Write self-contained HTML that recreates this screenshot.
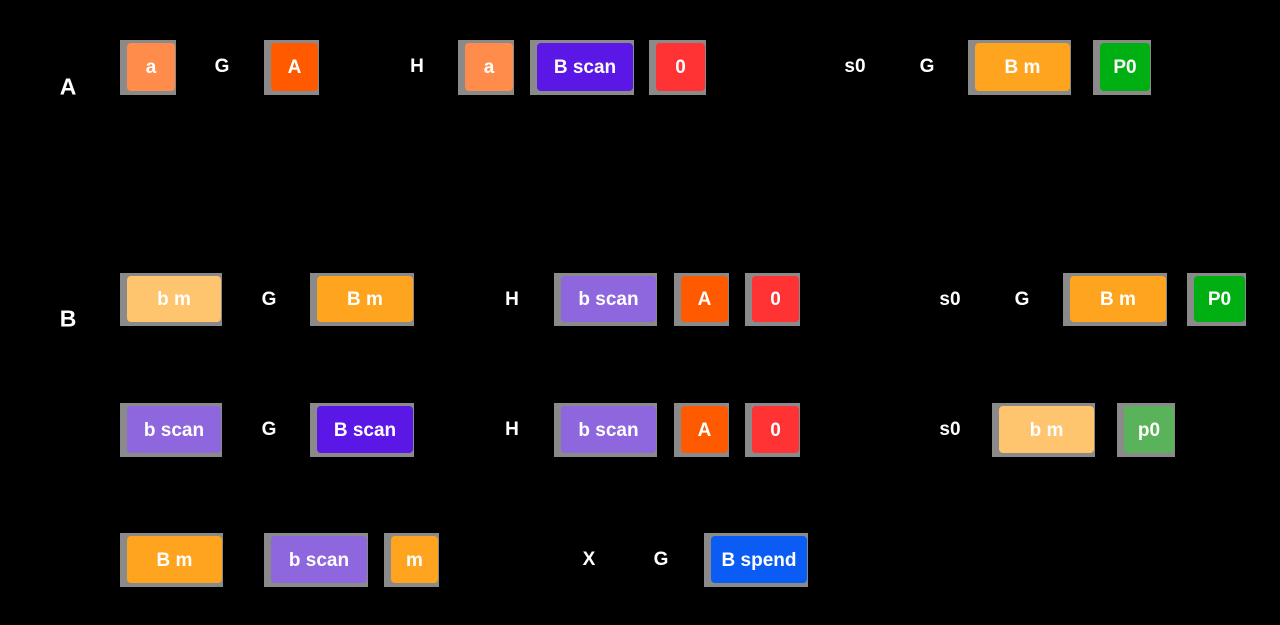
<!DOCTYPE html>
<html><head><meta charset="utf-8"><style>
body{margin:0;width:1280px;height:625px;background:#000;position:relative;overflow:hidden;font-family:"Liberation Sans",sans-serif;font-weight:bold;color:#fff}
.g{position:absolute;background:#8a8a8a}
.b{position:absolute;border-radius:4px;display:flex;align-items:center;justify-content:center;font-size:19px;color:#fff;padding-top:2px;box-sizing:border-box}
.t{position:absolute;font-size:19px;transform:translate(-50%,-50%)}
.L{font-size:23px}
</style></head><body>
<div id="root"></div>
<script>
const boxes=[
[127,175,43,91,'#FF8C4B','a'],[271,318,43,91,'#FF5A00','A'],[465,513,43,91,'#FF8C4B','a'],
[537,633,43,91,'#5B17E6','B scan'],[656,705,43,91,'#FF3333','0'],[975,1070,43,91,'#FFA41E','B m'],[1100,1150,43,91,'#00B012','P0'],
[127,221,276,322,'#FFC46E','b m'],[317,413,276,322,'#FFA41E','B m'],[561,656,276,322,'#8E66DD','b scan'],
[681,728,276,322,'#FF5A00','A'],[752,799,276,322,'#FF3333','0'],[1070,1166,276,322,'#FFA41E','B m'],[1194,1245,276,322,'#00B012','P0'],
[127,221,406,453,'#8E66DD','b scan'],[317,413,406,453,'#5B17E6','B scan'],[561,656,406,453,'#8E66DD','b scan'],
[681,728,406,453,'#FF5A00','A'],[752,799,406,453,'#FF3333','0'],[999,1094,406,453,'#FFC46E','b m'],[1124,1174,406,453,'#5AB35A','p0'],
[127,222,536,583,'#FFA41E','B m'],[271,367,536,583,'#8E66DD','b scan'],[391,438,536,583,'#FFA41E','m'],[711,807,536,583,'#0A5CF5','B spend']
];
const texts=[[222,66,'G'],[417,66,'H'],[855,66,'s0'],[927,66,'G'],
[269,299,'G'],[512,299,'H'],[950,299,'s0'],[1022,299,'G'],
[269,429,'G'],[512,429,'H'],[950,429,'s0'],
[589,559,'X'],[661,559,'G']];
const root=document.getElementById('root');
boxes.forEach(b=>{
 const g=document.createElement('div');g.className='g';
 
 
 g.style.cssText=`left:${b[0]-7}px;top:${b[2]-3}px;width:${b[1]-b[0]+8}px;height:${b[3]-b[2]+7}px`;
 root.appendChild(g);
 const d=document.createElement('div');d.className='b';
 
 
 d.style.cssText=`left:${b[0]}px;top:${b[2]}px;width:${b[1]-b[0]}px;height:${b[3]-b[2]}px;background:${b[4]}`;
 d.textContent=b[5];root.appendChild(d);
});
texts.forEach(t=>{
 const d=document.createElement('div');d.className='t';
 
 
 d.style.left=t[0]+'px';d.style.top=(t[1]+1)+'px';d.textContent=t[2];root.appendChild(d);
});
</script>
<div class="t L" style="left:68px;top:87px">A</div>
<div class="t L" style="left:68px;top:319px">B</div>
</body></html>
